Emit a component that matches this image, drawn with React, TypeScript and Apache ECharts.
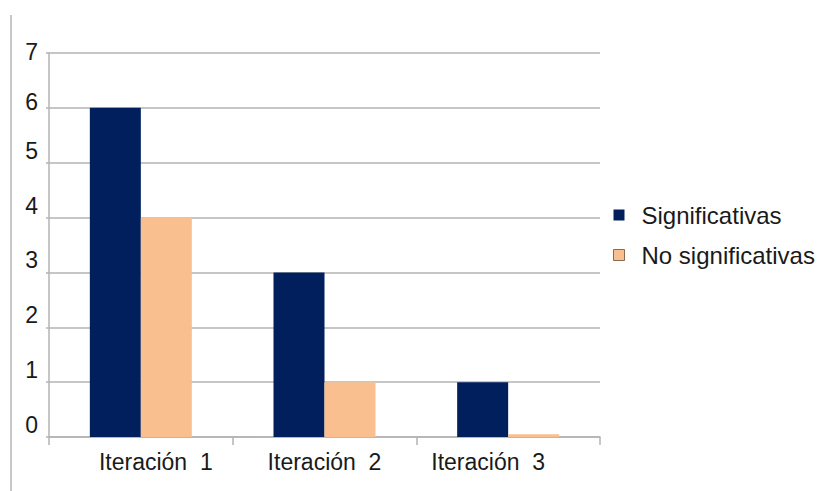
import React, { useEffect, useRef } from "react";
import * as echarts from "echarts";

const categories = ["Iteración  1", "Iteración  2", "Iteración  3"];
const significativas = [6, 3, 1];
const noSignificativas = [4, 1, 0.05];
const yTicks = [0, 1, 2, 3, 4, 5, 6, 7];
const labelPads = [
  [0, 0, 0, 30],
  [0, 0, 0, 0],
  [0, 40, 0, 0],
];

export default function App() {
  const ref = useRef<HTMLDivElement>(null);
  useEffect(() => {
    document.body.style.margin = "0";
    const chart = echarts.init(ref.current!, null, { renderer: "svg" });
    const font = "'Liberation Sans', Arial, sans-serif";
    const yRich = (pb: number) => ({
      fontFamily: font,
      fontSize: 23,
      color: "#1a1a1a",
      padding: [0, 0, pb, 0],
    });
    chart.setOption({
      animation: false,
      backgroundColor: "#ffffff",
      grid: { left: 49, right: 217, top: 53, bottom: 54, containLabel: false },
      graphic: [
        {
          type: "line",
          shape: { x1: 11, y1: 15, x2: 11, y2: 491 },
          style: { stroke: "#c8c8c8", lineWidth: 2 },
        },
      ],
      legend: {
        orient: "vertical",
        left: 608,
        top: 198,
        itemWidth: 11,
        itemHeight: 11,
        itemGap: 16,
        icon: "rect",
        textStyle: { fontFamily: font, fontSize: 24, color: "#1a1a1a", padding: [0, 0, 0, 12] },
        data: [
          { name: "Significativas" },
          { name: "No significativas", itemStyle: { borderColor: "#8a6a50", borderWidth: 1 } },
        ],
      },
      xAxis: {
        type: "category",
        data: categories.map((c, i) => ({ value: c, textStyle: { padding: labelPads[i] } })),
        axisLine: { show: true, lineStyle: { color: "#b3b3b3", width: 1.5 } },
        axisTick: { show: true, length: 8, lineStyle: { color: "#b3b3b3", width: 1.5 } },
        axisLabel: { fontFamily: font, fontSize: 23, color: "#1a1a1a", margin: 13 },
      },
      yAxis: {
        type: "value",
        min: 0,
        max: yTicks[yTicks.length - 1],
        interval: 1,
        axisLine: { show: true, lineStyle: { color: "#b3b3b3", width: 1.5 } },
        axisTick: { show: true, length: 3, lineStyle: { color: "#b3b3b3", width: 1.5 } },
        splitLine: { show: true, lineStyle: { color: "#b3b3b3", width: 1.5 } },
        axisLabel: {
          fontFamily: font,
          fontSize: 23,
          color: "#1a1a1a",
          margin: 11,
          formatter: (v: number) => (v === 7 ? `{a|${v}}` : v === 6 ? `{b|${v}}` : `{c|${v}}`),
          rich: {
            a: yRich(2),
            b: yRich(12),
            c: yRich(24),
          },
        },
      },
      series: [
        {
          name: "Significativas",
          type: "bar",
          data: significativas,
          barWidth: 51,
          barGap: "0%",
          itemStyle: { color: "#001f5c" },
        },
        {
          name: "No significativas",
          type: "bar",
          data: noSignificativas,
          barWidth: 51,
          itemStyle: { color: "#f9bf8f" },
        },
      ],
    });
    return () => chart.dispose();
  }, []);
  return <div ref={ref} style={{ width: 817, height: 491 }} />;
}
